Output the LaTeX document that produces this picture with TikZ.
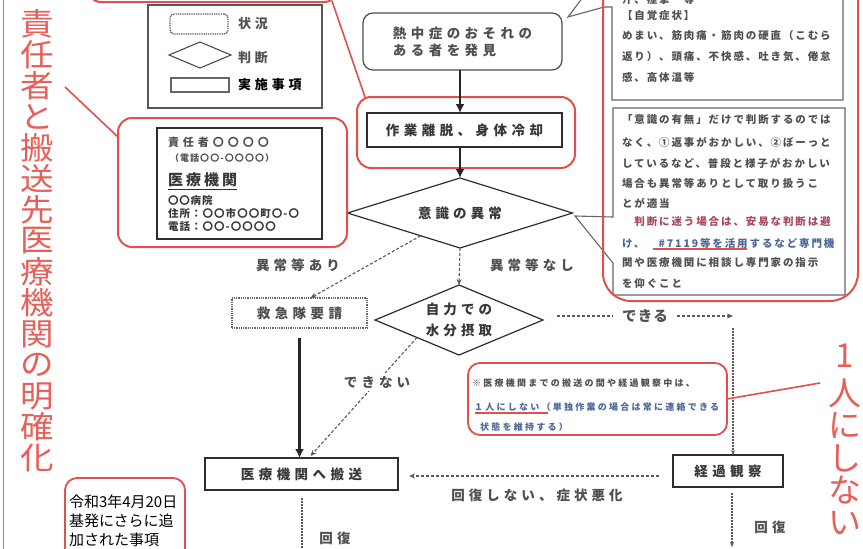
\documentclass[tikz,border=0pt]{standalone}
\usepackage{fontspec}
\usepackage{graphicx}
\setmainfont{Noto Sans CJK JP}
\usetikzlibrary{arrows.meta,shapes.geometric,calc}
\definecolor{rd}{HTML}{E0514B}
\definecolor{rdt}{HTML}{E65F58}
\definecolor{txt}{HTML}{383838}
\definecolor{gtx}{HTML}{505050}
\definecolor{ln}{HTML}{2E2E2E}
\definecolor{bl}{HTML}{4E679A}
\definecolor{rp}{HTML}{A8475E}
\newcommand\fsp[2]{\fontsize{#1}{#1}\selectfont\addfontfeature{LetterSpace=#2}}
\begin{document}
\begin{tikzpicture}[x=1pt,y=-1pt,
  every node/.style={inner sep=0pt,outer sep=0pt},
  redbox/.style={draw=rd,line width=2pt,rounded corners=14pt},
  redln/.style={draw=rd,line width=1.6pt},
  stepbox/.style={draw=ln,line width=1.4pt,rectangle,text=txt},
  statebox/.style={draw=ln!85,line width=1.2pt,rounded corners=10pt,text=gtx},
  judge/.style={draw=ln,line width=1.2pt,diamond,text=txt},
  lbl/.style={text=gtx,font=\bfseries\fsp{13.5}{30}},
  tx/.style={anchor=west,text=gtx},
  rtx/.style={anchor=west,text=gtx,font=\bfseries\fsp{10.5}{18}},
  ntx/.style={anchor=west,font=\bfseries\fsp{9}{25}},
  big/.style={-{Latex[length=9pt,width=9pt]},line width=2.6pt,draw=black!85},
  dsh/.style={-{Stealth[length=6pt,width=5pt]},line width=1.1pt,draw=black!65,dash pattern=on 3pt off 2pt},
  dot/.style={line width=1.3pt,draw=black!65,dash pattern=on 1.5pt off 1.5pt},
  vtl/.style={text=rdt},
  gry/.style={draw=black!60,line width=1.1pt},
]
\useasboundingbox (0,0) rectangle (863,549);
\fill[white] (0,0) rectangle (863,549);
% frame
\draw[black!45,line width=1pt] (3,0) -- (3,549);

% top partial red box
\draw[redbox] (87,-40) rectangle (338,2);
\coordinate (topc) at (332,1);

% left vertical red text
\foreach \c [count=\i from 0] in {責,任,者,と,搬,送,先,医,療,機,関,の,明,確,化}
  \node[vtl,font=\fontsize{31}{31}\selectfont] (lv\i) at (37,24+31*\i) {\scalebox{1.08}[1]{\c}};
\coordinate (lt) at (65,87);

% legend
\node[draw=ln!80,line width=1.2pt,minimum width=174pt,minimum height=103pt] (leg) at (235,56.5) {};
\node[draw=black!65,line width=1.3pt,dash pattern=on 1pt off 0.8pt,rounded corners=4pt,minimum width=58pt,minimum height=20pt] (lg1) at (199,24) {};
\node[judge,draw=black!75,line width=1pt,shape aspect=2.4,minimum width=62pt,minimum height=26pt] (lg2) at (200,55) {};
\node[draw=black!60,line width=2pt,minimum width=58pt,minimum height=14pt] (lg3) at (200,85) {};
\node[tx,font=\bfseries\fsp{13}{30}] (lt1) at (238,24) {状況};
\node[tx,font=\bfseries\fsp{13}{30}] (lt2) at (238,58) {判断};
\node[tx,text=black,font=\bfseries\fsp{13}{30}] (lt3) at (238,85) {実施事項};

% main flow
\node[statebox,minimum width=199pt,minimum height=57pt,align=left,font=\bfseries\fontsize{13.5}{17}\selectfont\addfontfeature{LetterSpace=33}] (find) at (462.5,41.5) {熱中症のおそれの\\ある者を発見};
\node[stepbox,minimum width=195pt,minimum height=34pt,font=\bfseries\fsp{13.5}{33}] (act) at (464.5,130) {作業離脱、身体冷却};
\node[redbox,minimum width=218pt,minimum height=71pt] (actr) at (466,132.5) {};
\node[judge,shape aspect=3.2,minimum width=225pt,minimum height=70pt,font=\bfseries\fsp{13.5}{30}] (d1) at (460,213) {意識の異常};
\node[draw=black!60,line width=1.3pt,dash pattern=on 1pt off 0.8pt,minimum width=135pt,minimum height=30pt,text=gtx,font=\bfseries\fsp{13.5}{33}] (kq) at (299.5,313) {救急隊要請};
\node[judge,shape aspect=2.4,minimum width=168pt,minimum height=70pt,align=center,font=\bfseries\fontsize{13.5}{21}\selectfont\addfontfeature{LetterSpace=30}] (d2) at (459,320) {自力での\\水分摂取};
\node[stepbox,minimum width=193pt,minimum height=32pt,font=\bfseries\fsp{13.5}{33}] (hs) at (301.5,474) {医療機関へ搬送};
\node[stepbox,minimum width=110pt,minimum height=32pt,font=\bfseries\fsp{13.5}{33}] (kk) at (728,471) {経過観察};

\draw[big] (find.south -| d1.north) -- (act.north -| d1.north);
\draw[big] (act.south -| d1.north) -- (d1.north);
\draw[dsh] ($(d1.south)!0.35!(d1.west)$) -- ($(kq.north)+(11,0)$);
\node[lbl] (l1) at (298,265) {異常等あり};
\draw[dsh] (d1.south) -- (d2.north);
\node[lbl] (l2) at (532,265) {異常等なし};
\coordinate (c1) at (733,316);
\draw[dsh] ($(d2.east)+(14,-4)$) -- node[fill=white,inner xsep=9pt,inner ysep=2pt,lbl,font=\bfseries\fsp{14.5}{8}] (l3) {できる} (c1);
\draw[dot,-{Stealth[length=5pt,width=4pt]}] ($(c1)+(0,12)$) -- (kk.north -| c1);
\draw[big] ($(kq.south)+(0,10)$) -- (kq.south |- hs.north);
\draw[dsh] ($(d2.south)!0.5!(d2.west)$) -- node[pos=0.375,fill=white,inner sep=3pt,lbl] (l4) {できない} ($(hs.north)+(9,-2)$);
\draw[dsh] ($(kk.west)+(-14,5)$) -- ($(hs.east)+(11,2)$);
\node[lbl] (l5) at (537,495) {回復しない、症状悪化};
\coordinate (e1) at (302,556);
\draw[dot] ($(hs.south)+(0.5,8)$) -- (e1);
\node[lbl] (l6) at (335,538) {回復};
\coordinate (e2) at (732,547);
\draw[dot,-{Stealth[length=5pt,width=4pt]}] ($(kk.south)+(4,6)$) -- (e2);
\node[lbl] (l7) at (770,527) {回復};

\draw[redln] (topc) -- ($(actr.north west)+(8,0)$);

% responsible person box
\node[redbox,minimum width=229pt,minimum height=129pt] (respr) at (232.5,182.5) {};
\node[draw=ln,line width=1.5pt,minimum width=165pt,minimum height=111pt] (resp) at (239.5,183.5) {};
\node[tx,font=\bfseries\fsp{11}{36}] (r1) at (168,142) {責任者〇〇〇〇};
\node[tx,font=\bfseries\fsp{9}{12}] (r2) at (170,158) {（電話〇〇-〇〇〇〇）};
\node[tx,text=txt,font=\bfseries\fsp{15}{20}] (r3) at (168,180) {医療機関};
\draw[ln,line width=1.2pt] ($(r3.south west)+(0,2)$) -- ($(r3.south east)+(0,2)$);
\node[tx,text=txt,font=\bfseries\fsp{10.5}{8}] (r4) at (168,201) {〇〇病院};
\node[tx,text=txt,font=\bfseries\fsp{10.5}{10}] (r5) at (168,213) {住所：〇〇市〇〇町〇-〇};
\node[tx,text=txt,font=\bfseries\fsp{10.5}{10}] (r6) at (168,227) {電話：〇〇-〇〇〇〇};
\draw[redln] (lt) -- ($(respr.north west)+(0,19)$);

% right boxes
\draw[gry] (583,-3) -- (568,17) -- (604,7) -- (612,7) -- (612,100) -- (843,100) -- (843,-5);
\draw[gry] (613,263) -- (613,295) -- (845,295) -- (845,108) -- (613,108) -- (613,217) -- (575,216) -- cycle;
\draw[rd,line width=2pt,rounded corners=28pt] (603,-40) rectangle (858,301);
\node[rtx] (u0) at (622,-1) {汗、痙攣　等};
\node[rtx] (u1) at (622,16) {【自覚症状】};
\node[rtx] (u2) at (622,36) {めまい、筋肉痛・筋肉の硬直（こむら};
\node[rtx] (u3) at (622,57) {返り）、頭痛、不快感、吐き気、倦怠};
\node[rtx] (u4) at (622,77) {感、高体温等};
\node[rtx] (w1) at (622,120) {「意識の有無」だけで判断するのでは};
\node[rtx] (w2) at (622,142) {なく、①返事がおかしい、②ぼーっと};
\node[rtx] (w3) at (622,163) {しているなど、普段と様子がおかしい};
\node[rtx] (w4) at (622,183) {場合も異常等ありとして取り扱うこ};
\node[rtx] (w5) at (622,203) {とが適当};
\node[rtx,text=rp] (w6) at (622,222) {　判断に迷う場合は、安易な判断は避};
\node[rtx,text=bl] (w7) at (622,243) {け、　\#7119等を活用するなど専門機};
\draw[rd,line width=1.3pt] (653,249) -- (747,249);
\node[rtx] (w8) at (622,263) {関や医療機関に相談し専門家の指示};
\node[rtx] (w9) at (622,283) {を仰ぐこと};

% note box
\node[draw=rd,line width=1.8pt,rounded corners=12pt,minimum width=259pt,minimum height=72pt] (note) at (597.5,399) {};
\node[ntx,text=gtx] (n1) at (472,383) {※医療機関までの搬送の間や経過観察中は、};
\node[ntx,text=bl] (n2) at (474,407) {１人にしない（単独作業の場合は常に連絡できる};
\node[ntx,text=bl] (n3) at (480,427) {状態を維持する）};
\draw[rd,line width=1.2pt] (475,413) -- (548,413);
\coordinate (rt) at (820,383);
\draw[redln] (note.east) -- (rt);
\foreach \c/\yy [count=\i] in {1/356,人/393,に/425.5,し/458,な/490.5,い/523}
  \node[vtl,font=\fontsize{33}{33}\selectfont] (rv\i) at (845,\yy) {\c};

% memo box
\node[draw=rd,line width=1.8pt,rounded corners=12pt,minimum width=120pt,minimum height=100pt] (memo) at (125,528) {};
\node[tx,text=black,align=left,font=\fontsize{15}{19}\selectfont] (m1) at (69,521) {令和3年4月20日\\基発にさらに追\\加された事項};
\end{tikzpicture}
\end{document}
